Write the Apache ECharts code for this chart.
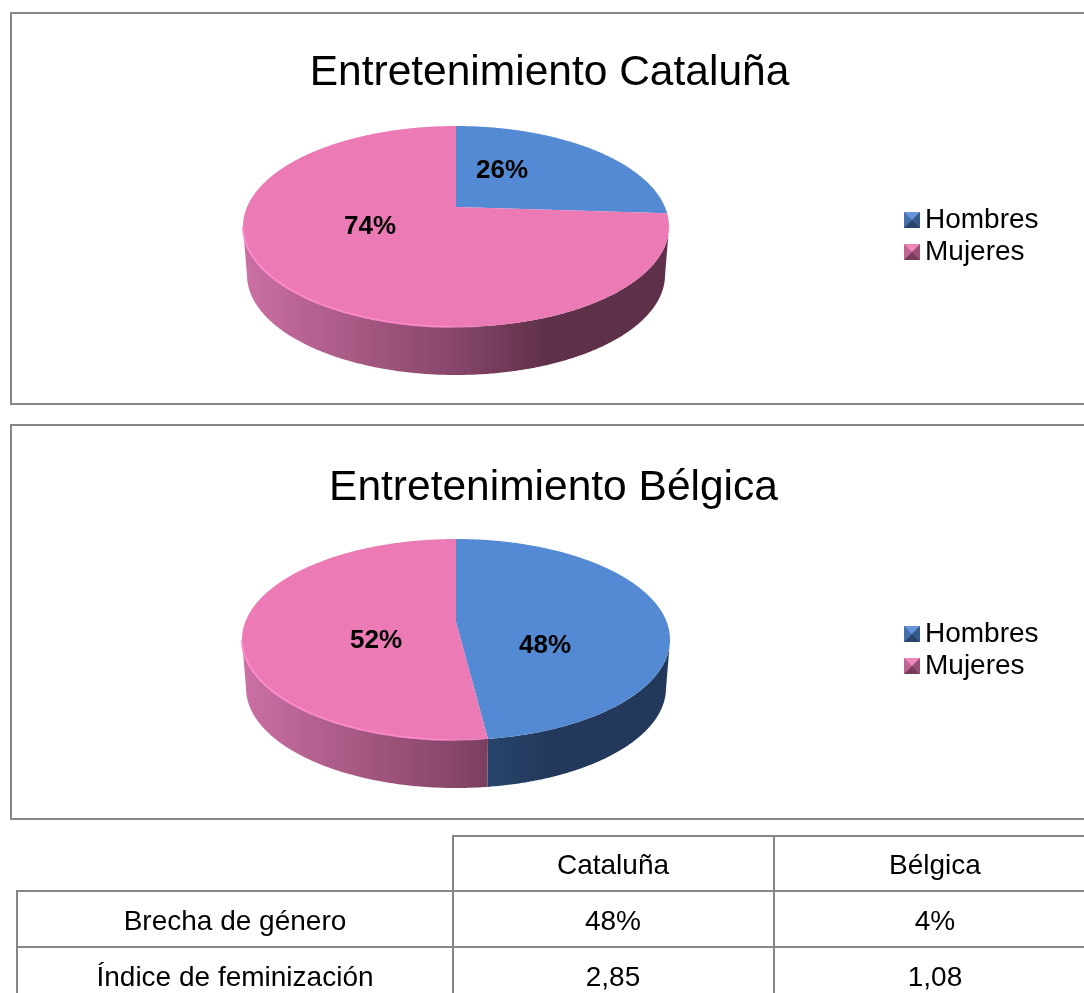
<!DOCTYPE html>
<html>
<head>
<meta charset="utf-8">
<title>Entretenimiento</title>
<script src="https://cdn.jsdelivr.net/npm/echarts@6/dist/echarts.min.js"></script>
<style>
    html, body { margin: 0; padding: 0; background: #fff; }
    #main { width: 1084px; height: 993px; }
</style>
</head>
<body>
<div id="main"></div>
<script>
    // data
    const sliceNames = ['Hombres', 'Mujeres']
    const cataluna = [26, 74]
    const belgica = [48, 52]
    const tableCols = ['Cataluña', 'Bélgica']
    const tableRows = ['Brecha de género', 'Índice de feminización']
    const brecha = ['48%', '4%']
    const indice = ['2,85', '1,08']

    const FONT = '"Liberation Sans", Arial, sans-serif'
    const LINE = '#868686'

    const colors = {
        Hombres: {
            top: '#548ad3',
            side: ['#6f9bd6', '#4f78ad', '#2a4a75', '#23395b', '#23395b']
        },
        Mujeres: {
            top: '#ec7ab5',
            side: ['#cb70a4', '#a95a85', '#864669', '#5f3049', '#5f3049']
        }
    }

    // layout of both pies (ellipse of the top face, apex, lower rim, label spots)
    const pies = [{
        title: 'Entretenimiento Cataluña', titleX: 549.5, titleY: 73,
        values: cataluna,
        cx: 456, cy: 226.5, rx: 213, ry: 100.5, apexY: 207,
        lowY: 275, lowRx: 209, lowRy: 100,
        labels: [[502, 171], [370, 227]],
        legendY: 201
    }, {
        title: 'Entretenimiento Bélgica', titleX: 553.5, titleY: 488,
        values: belgica,
        cx: 456, cy: 639.5, rx: 214, ry: 100.5, apexY: 622,
        lowY: 688, lowRx: 210, lowRy: 100,
        labels: [[545, 646], [376, 641]],
        legendY: 615
    }]

    // clockwise angle from the top of the pie -> point on the tilted ellipse
    function project(pie, theta) {
        const p = (pie.apexY - pie.cy) / pie.ry
        const u = Math.sin(theta)
        const v = -Math.cos(theta)
        const w = 1 + p * v
        return {
            x: pie.cx + pie.rx * Math.sqrt(1 - p * p) * u / w,
            y: pie.cy + pie.ry * (v + p) / w,
        }
    }

    function makeSliceSeries(pie, index, startShare) {
        const name = sliceNames[index]
        const col = colors[name]
        return {
            name: name,
            type: 'custom',
            coordinateSystem: 'none',
            silent: true,
            itemStyle: { color: col.top },
            data: [[pie.values[index]]],
            renderItem: function (params, api) {
                const value = api.value(0)
                const total = pie.values.reduce((a, b) => a + b, 0)
                const a0 = startShare / total * Math.PI * 2
                const a1 = (startShare + value) / total * Math.PI * 2
                const steps = Math.max(8, Math.round((a1 - a0) / Math.PI * 360))

                const topPts = [[pie.cx, pie.apexY]]
                const frontTop = []
                const frontLow = []
                for (let i = 0; i <= steps; i++) {
                    const pt = project(pie, a0 + (a1 - a0) * i / steps)
                    topPts.push([pt.x, pt.y])
                    if (pt.y >= pie.cy) {
                        const phi = Math.atan2((pt.y - pie.cy) / pie.ry, (pt.x - pie.cx) / pie.rx)
                        frontTop.push([pt.x, pt.y])
                        frontLow.push([pie.cx + pie.lowRx * Math.cos(phi), pie.lowY + pie.lowRy * Math.sin(phi)])
                    }
                }

                const children = []
                if (frontTop.length > 1) {
                    const stops = col.side.map((c, i) => ({ offset: [0, 0.25, 0.5, 0.72, 1][i], color: c }))
                    children.push({
                        type: 'polygon',
                        shape: { points: frontTop.concat(frontLow.slice().reverse()) },
                        style: {
                            fill: new echarts.graphic.LinearGradient(pie.cx - pie.rx, 0, pie.cx + pie.rx, 0, stops, true)
                        }
                    })
                }
                children.push({
                    type: 'polygon',
                    shape: { points: topPts },
                    style: { fill: col.top }
                })
                if (name === 'Mujeres' && frontTop.length > 1) {
                    // light rim on the left of the top face
                    children.push({
                        type: 'polyline',
                        shape: { points: frontTop },
                        style: {
                            fill: null,
                            lineWidth: 2,
                            stroke: new echarts.graphic.LinearGradient(pie.cx - pie.rx, 0, pie.cx + 30, 0, [
                                { offset: 0, color: 'rgba(255,140,205,0.9)' },
                                { offset: 0.8, color: 'rgba(255,140,205,0.8)' },
                                { offset: 1, color: 'rgba(255,140,205,0)' }
                            ], true)
                        }
                    })
                }
                children.push({
                    type: 'text',
                    z2: 10,
                    style: {
                        text: value + '%',
                        x: pie.labels[index][0],
                        y: pie.labels[index][1],
                        align: 'center',
                        verticalAlign: 'middle',
                        fontFamily: FONT,
                        fontWeight: 'bold',
                        fontSize: 26,
                        fill: '#000'
                    }
                })
                return { type: 'group', children: children }
            }
        }
    }

    const series = []
    pies.forEach(pie => {
        let share = 0
        pie.values.forEach((val, i) => {
            series.push(makeSliceSeries(pie, i, share))
            share += val
        })
    })

    const elements = []

    function line(x1, y1, x2, y2) {
        elements.push({
            type: 'line',
            shape: { x1: x1, y1: y1, x2: x2, y2: y2 },
            style: { stroke: LINE, lineWidth: 2 },
            silent: true
        })
    }

    function label(text, x, y, size) {
        elements.push({
            type: 'text',
            silent: true,
            style: {
                text: text, x: x, y: y,
                align: 'center', verticalAlign: 'middle',
                fontFamily: FONT, fontSize: size, fill: '#000'
            }
        })
    }

    // frames round the pies, they run off the right side of the page
    line(10, 13, 1084, 13); line(11, 12, 11, 405); line(10, 404, 1084, 404)
    line(10, 425, 1084, 425); line(11, 424, 11, 820); line(10, 819, 1084, 819)

    pies.forEach(pie => {
        label(pie.title, pie.titleX, pie.titleY, 42.5)
        // bevel on the legend swatches
        sliceNames.forEach((name, i) => {
            const x = 904, y = pie.legendY + 11 + i * 32, s = 16, c = s / 2
            const tri = (pts, fill) => elements.push({
                type: 'polygon', silent: true, z: 20,
                shape: { points: pts.map(p => [x + p[0], y + p[1]]) },
                style: { fill: fill }
            })
            tri([[0, 0], [s, 0], [c, c]], 'rgba(255,255,255,0.1)')
            tri([[0, 0], [0, s], [c, c]], 'rgba(0,0,0,0.18)')
            tri([[s, 0], [s, s], [c, c]], 'rgba(0,0,0,0.35)')
            tri([[0, s], [s, s], [c, c]], 'rgba(0,0,0,0.5)')
        })
    })

    // table under the pies
    const colX = [453, 774, 1084]
    const rowY = [836, 891, 947, 993]
    line(452, rowY[0], 1084, rowY[0])
    line(16, rowY[1], 1084, rowY[1])
    line(16, rowY[2], 1084, rowY[2])
    line(17, rowY[1], 17, 993)
    line(colX[0], rowY[0], colX[0], 993)
    line(colX[1], rowY[0], colX[1], 993)

    const colMid = [235, 613, 935]
    const rowMid = [866, 922, 978]
    tableCols.forEach((t, i) => label(t, colMid[i + 1], rowMid[0], 28))
    tableRows.forEach((t, i) => label(t, colMid[0], rowMid[i + 1], 28))
    brecha.forEach((t, i) => label(t, colMid[i + 1], rowMid[1], 28))
    indice.forEach((t, i) => label(t, colMid[i + 1], rowMid[2], 28))

    const myChart = echarts.init(document.getElementById('main'), null, { renderer: 'canvas' })
    myChart.setOption({
        animation: false,
        backgroundColor: '#fff',
        legend: pies.map(pie => ({
            data: sliceNames,
            orient: 'vertical',
            left: 899,
            top: pie.legendY,
            icon: 'rect',
            itemWidth: 16,
            itemHeight: 16,
            itemGap: 4,
            selectedMode: false,
            textStyle: { fontFamily: FONT, fontSize: 28, color: '#000' }
        })),
        series: series,
        graphic: { elements: elements }
    })
</script>
</body>
</html>
